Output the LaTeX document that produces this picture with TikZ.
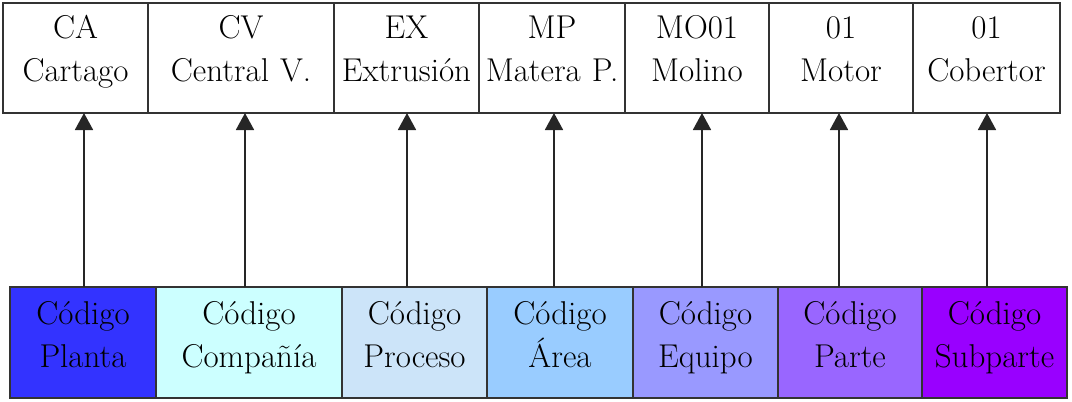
\documentclass[tikz,border=0pt]{standalone}
\usepackage{fontspec}
\usetikzlibrary{arrows.meta,positioning}

\definecolor{planta}{HTML}{3333FF}
\definecolor{compania}{HTML}{CCFFFF}
\definecolor{proceso}{HTML}{CCE4F9}
\definecolor{area}{HTML}{99CCFF}
\definecolor{equipo}{HTML}{9999FF}
\definecolor{parte}{HTML}{9966FF}
\definecolor{subparte}{HTML}{9900FF}

\newcommand{\cellfont}{\rmfamily\fontsize{16.5}{21.5}\selectfont}

\begin{document}
\begin{tikzpicture}[
  x=0.5pt, y=-0.5pt,
  cell/.style={draw=black!80, line width=1pt, inner sep=0pt, outer sep=0pt, align=center,
    font=\cellfont, text width=#1, text height=17.5pt, text depth=37.5pt, fill=white},
  code/.style={cell=#1, text height=18.5pt, text depth=37pt},
  arrow/.style={-{Triangle[width=9pt,length=8.5pt]}, line width=0.9pt, draw=black!85}
]
\useasboundingbox (0,0) rectangle (1072,402);

% valores del codigo
\node[cell=72.5pt, anchor=north west] (t1) at (3,3) {CA\\Cartago};
\node[cell=93pt, right=0pt of t1] (t2) {CV\\Central V.};
\node[cell=72.5pt, right=0pt of t2] (t3) {EX\\Extrusión};
\node[cell=73pt, right=0pt of t3] (t4) {MP\\Matera P.};
\node[cell=72pt, right=0pt of t4] (t5) {MO01\\Molino};
\node[cell=72pt, right=0pt of t5] (t6) {01\\Motor};
\node[cell=73.5pt, right=0pt of t6] (t7) {01\\Cobertor};

% campos del codigo
\node[code=73pt, fill=planta, anchor=north west] (b1) at (10,287) {Código\\Planta};
\node[code=93pt, fill=compania, right=0pt of b1] (b2) {Código\\Compañía};
\node[code=72.5pt, fill=proceso, right=0pt of b2] (b3) {Código\\Proceso};
\node[code=73pt, fill=area, right=0pt of b3] (b4) {Código\\Área};
\node[code=72.5pt, fill=equipo, right=0pt of b4] (b5) {Código\\Equipo};
\node[code=72pt, fill=parte, right=0pt of b5] (b6) {Código\\Parte};
\node[code=72.5pt, fill=subparte, right=0pt of b6] (b7) {Código\\Subparte};

\foreach \i/\x in {1/84,2/245,3/407,4/554,5/702,6/839,7/987} {
  \coordinate (x\i) at (\x,0);
  \draw[arrow] (b\i.north -| x\i) -- (t\i.south -| x\i);
}

\end{tikzpicture}
\end{document}
